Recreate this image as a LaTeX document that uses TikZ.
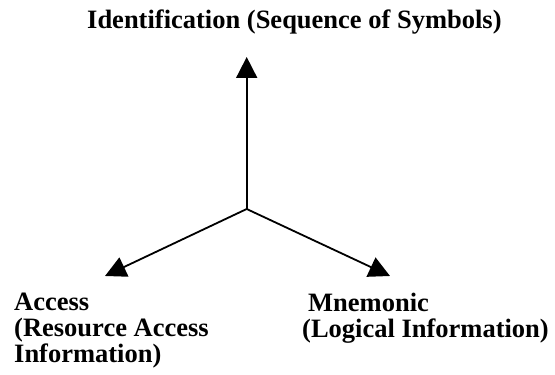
\documentclass[tikz,border=0pt]{standalone}
\usepackage{fontspec}
\setmainfont{Liberation Serif}
\usetikzlibrary{arrows.meta}
\begin{document}
\begin{tikzpicture}[x=1pt,y=1pt,
  label text/.style={font=\fontsize{26.5}{26.5}\selectfont\bfseries, inner sep=0pt, align=left},
  axis arrow/.style={line width=1.8pt, -{Triangle[length=21pt,width=21pt]}}]
  \useasboundingbox (0,0) rectangle (555,375);
  % hub and the three arrow ends
  \coordinate (hub) at (246.7,166);
  \coordinate (idtip) at (246.7,318);
  \coordinate (acctip) at (105,99);
  \coordinate (mnetip) at (390,99);
  % labels
  \node[label text, anchor=base west] (ident) at (87,346.7) {Identification (Sequence of Symbols)};
  \node[label text, anchor=base west] (acc1) at (14,64) {Access};
  \node[label text, anchor=base west] (acc2) at (14,38) {(Resource Access};
  \node[label text, anchor=base west] (acc3) at (14,12) {Information)};
  \node[label text, anchor=base west] (mne1) at (308,63) {Mnemonic};
  \node[label text, anchor=base west] (mne2) at (302,37) {(Logical Information)};
  % arrows
  \draw[axis arrow] (hub) -- (idtip);
  \draw[axis arrow] (hub) -- (acctip);
  \draw[axis arrow] (hub) -- (mnetip);
\end{tikzpicture}
\end{document}
